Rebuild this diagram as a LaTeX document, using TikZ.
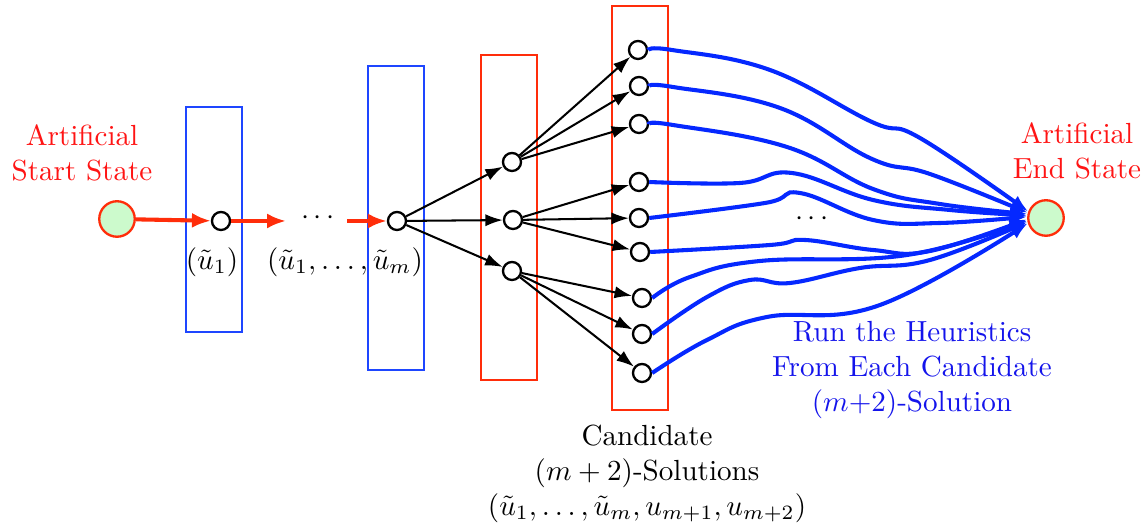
\documentclass[tikz,border=0pt]{standalone}
\usetikzlibrary{arrows.meta}
\definecolor{myred}{RGB}{255,45,10}
\definecolor{txtred}{RGB}{255,20,20}
\definecolor{boxblue}{RGB}{30,70,255}
\definecolor{curveblue}{RGB}{5,40,255}
\definecolor{txtblue}{RGB}{20,20,235}
\definecolor{lgreen}{RGB}{204,250,204}
\begin{document}
\begin{tikzpicture}[x=0.3436pt,y=-0.3436pt,
  sm/.style={circle,draw=black,fill=white,line width=0.8pt,minimum size=6.2pt,inner sep=0pt},
  big/.style={circle,draw=myred,fill=lgreen,line width=0.8pt,minimum size=12.2pt,inner sep=0pt},
  redarr/.style={draw=myred,line width=1.4pt,-{Latex[length=6.5pt,width=5.2pt]}},
  blkarr/.style={draw=black,line width=0.7pt,-{Latex[length=6pt,width=4.2pt]}},
  bluarr/.style={draw=curveblue,line width=1.4pt,-{Latex[length=6pt,width=4.6pt]}},
  wave/.style={smooth,tension=0.7},
  bbox/.style={draw=boxblue,line width=0.9pt},
  rbox/.style={draw=myred,line width=0.9pt},
  lbl/.style={align=center,inner sep=0pt}]
\useasboundingbox (0,0) rectangle (1148,529);
% boxes
\draw[bbox] (186,107) rectangle (242,332);
\draw[bbox] (368,66) rectangle (424,370);
\draw[rbox] (481,55) rectangle (537,380);
\draw[rbox] (612,6) rectangle (668,410);
% nodes
\node[big] (s) at (117,219) {};
\node[sm] (u1) at (221,221) {};
\node[sm] (um) at (397,221) {};
\node[sm] (a1) at (512,162) {};
\node[sm] (a2) at (513,220) {};
\node[sm] (a3) at (512,271) {};
\node[sm] (b1) at (638,50) {};
\node[sm] (b2) at (639,86) {};
\node[sm] (b3) at (639,124) {};
\node[sm] (b4) at (639,182) {};
\node[sm] (b5) at (639,218) {};
\node[sm] (b6) at (640,252) {};
\node[sm] (b7) at (642,298) {};
\node[sm] (b8) at (642,334) {};
\node[sm] (b9) at (642,373) {};
\node[big] (e) at (1046,218) {};
\coordinate (d1) at (286,221);
\coordinate (d2) at (347,221);
% labels
\node[lbl,text=txtred] (ls) at (82,153) {Artificial\\Start State};
\node[lbl,text=txtred] (le) at (1077,151) {Artificial\\End State};
\node[lbl] (l1) at (212,262) {$(\tilde{u}_1)$};
\node[lbl] (l2) at (345,262) {$(\tilde{u}_1,\ldots,\tilde{u}_m)$};
\node[lbl] (dots1) at (318,218) {$\cdots$};
\node[lbl] (dots2) at (812,219) {$\cdots$};
\node[lbl,text=txtblue] (lh) at (912,370) {Run the Heuristics\\From Each Candidate\\$(m{+}2)$-Solution};
\node[lbl] (lc) at (647,474) {Candidate\\$(m+2)$-Solutions\\$(\tilde{u}_1,\ldots,\tilde{u}_m,u_{m+1},u_{m+2})$};
% red arrows
\draw[redarr] (s) -- (u1);
\draw[redarr] (u1) -- (d1);
\draw[redarr] (d2) -- (um);
% black arrows
\foreach \t in {a1,a2,a3} \draw[blkarr] (um) -- (\t);
\foreach \t in {b1,b2,b3} \draw[blkarr] (a1) -- (\t);
\foreach \t in {b4,b5,b6} \draw[blkarr] (a2) -- (\t);
\foreach \t in {b7,b8,b9} \draw[blkarr] (a3) -- (\t);
% blue curves
\draw[bluarr] plot[wave] coordinates {(b1.east) (672,50) (770,70) (872,122) (920,138) (e.160)};
\draw[bluarr] plot[wave] coordinates {(b2.east) (673,87) (780,108) (872,159) (930,174) (e.164)};
\draw[bluarr] plot[wave] coordinates {(b3.east) (673,125) (787,147) (873,189) (940,204) (e.168)};
\draw[bluarr] plot[wave] coordinates {(b4.east) (740,183) (792,173) (873,200) (950,210) (e.172)};
\draw[bluarr] plot[wave] coordinates {(b5.east) (765,203) (800,193) (873,220) (940,223) (e.176)};
\draw[bluarr] plot[wave] coordinates {(b6.east) (770,245) (805,240) (873,250) (930,251) (e.184)};
\draw[bluarr] plot[wave] coordinates {(b7.east) (690,277) (760,261) (907,255) (e.188)};
\draw[bluarr] plot[wave] coordinates {(b8.east) (707,297) (750,280) (790,283) (860,268) (930,260) (e.192)};
\draw[bluarr] plot[wave] coordinates {(b9.east) (707,340) (767,317) (880,305) (e.196)};
\end{tikzpicture}
\end{document}
